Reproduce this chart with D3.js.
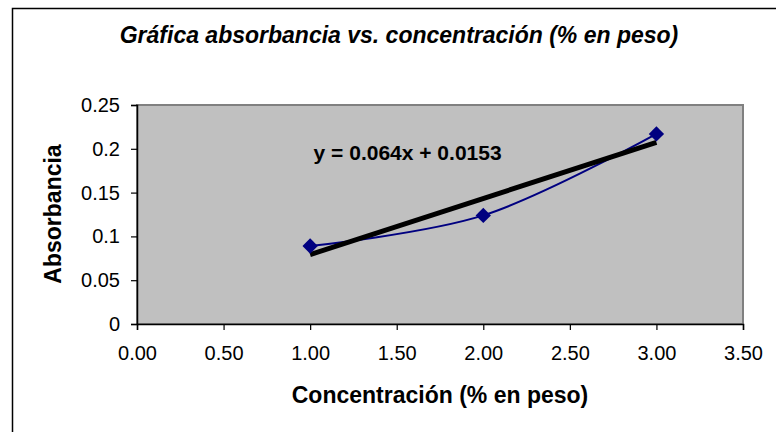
<!DOCTYPE html>
<html>
<head>
<meta charset="utf-8">
<script src="https://cdn.jsdelivr.net/npm/d3@7"></script>
<style>
  body { margin: 0; background: #fff; }
  text { font-family: "Liberation Sans", Arial, sans-serif; fill: #000; }
</style>
</head>
<body>
<div id="the_chart"></div>
<script>
// data
var concentracion = [1, 2, 3];
var absorbancia = [0.089, 0.124, 0.217];
var xTicks = [0, 0.5, 1, 1.5, 2, 2.5, 3, 3.5];
var yTicks = [0, 0.05, 0.1, 0.15, 0.2, 0.25];
var pendiente = 0.064;
var intercepto = 0.0153;

var w = 776, h = 432;
var pLeft = 137, pRight = 743, pTop = 105, pBottom = 324;

var svg = d3.select("#the_chart").append("svg")
            .attr("width", w).attr("height", h);

// chart frame (only top and left edges fall inside the picture)
svg.append("rect")
   .attr("x", 12.5).attr("y", 8.5)
   .attr("width", 900).attr("height", 600)
   .attr("fill", "#fff").attr("stroke", "#000").attr("stroke-width", 1.5);

var xscale = d3.scaleLinear().domain([0, 3.5]).range([pLeft, pRight]);
var yscale = d3.scaleLinear().domain([0, 0.25]).range([pBottom, pTop]);

// plot area
svg.append("rect")
   .attr("x", pLeft).attr("y", pTop)
   .attr("width", pRight - pLeft).attr("height", pBottom - pTop)
   .attr("fill", "#c0c0c0").attr("stroke", "#808080").attr("stroke-width", 2);

var yaxis = d3.axisLeft(yscale).tickValues(yTicks).tickSize(6).tickPadding(11)
              .tickFormat(function (d) { return String(+d.toFixed(2)); });
svg.append("g").attr("transform", "translate(" + pLeft + ",0)")
   .attr("class", "yaxis").call(yaxis);

var xaxis = d3.axisBottom(xscale).tickValues(xTicks).tickSize(6).tickPadding(16)
              .tickFormat(d3.format(".2f"));
svg.append("g").attr("transform", "translate(0," + pBottom + ")")
   .attr("class", "xaxis").call(xaxis);

svg.selectAll(".domain").attr("stroke", "#000").attr("stroke-width", 1.5);
svg.selectAll(".tick line").attr("stroke", "#000").attr("stroke-width", 1.2);
svg.selectAll(".tick text").attr("font-size", "20px")
   .attr("font-family", "Liberation Sans, Arial, sans-serif").attr("fill", "#000");

// data line, smoothed
var pts = concentracion.map(function (c, i) { return [c, absorbancia[i]]; });
var line = d3.line()
             .x(function (d) { return xscale(d[0]); })
             .y(function (d) { return yscale(d[1]); })
             .curve(d3.curveCatmullRom.alpha(0.5));
svg.append("path").datum(pts)
   .attr("d", line).attr("fill", "none")
   .attr("stroke", "#000080").attr("stroke-width", 2);

// trend line
var trend = [1, 3].map(function (x) { return [x, pendiente * x + intercepto]; });
svg.append("path").datum(trend)
   .attr("d", d3.line().x(function (d) { return xscale(d[0]); })
                       .y(function (d) { return yscale(d[1]); }))
   .attr("stroke", "#000").attr("stroke-width", 5);

// markers
svg.selectAll(".pt").data(pts).enter().append("path")
   .attr("class", "pt")
   .attr("transform", function (d) {
       return "translate(" + xscale(d[0]) + "," + yscale(d[1]) + ")";
   })
   .attr("d", d3.symbol(d3.symbolDiamond2, 150))
   .attr("fill", "#000080");

svg.append("text")
   .attr("x", xscale(1.02)).attr("y", 160)
   .attr("font-size", "21px").attr("font-weight", "bold")
   .text("y = " + pendiente + "x + " + intercepto);

// titles
svg.append("text")
   .attr("x", 399).attr("y", 43).attr("text-anchor", "middle")
   .attr("font-size", "23px").attr("font-weight", "bold").attr("font-style", "italic")
   .text("Gráfica absorbancia vs. concentración (% en peso)");

svg.append("text")
   .attr("x", 440).attr("y", 403).attr("text-anchor", "middle")
   .attr("font-size", "23px").attr("font-weight", "bold")
   .text("Concentración (% en peso)");

svg.append("text")
   .attr("transform", "translate(61,214) rotate(-90)")
   .attr("text-anchor", "middle")
   .attr("font-size", "23px").attr("font-weight", "bold")
   .text("Absorbancia");
</script>
</body>
</html>
